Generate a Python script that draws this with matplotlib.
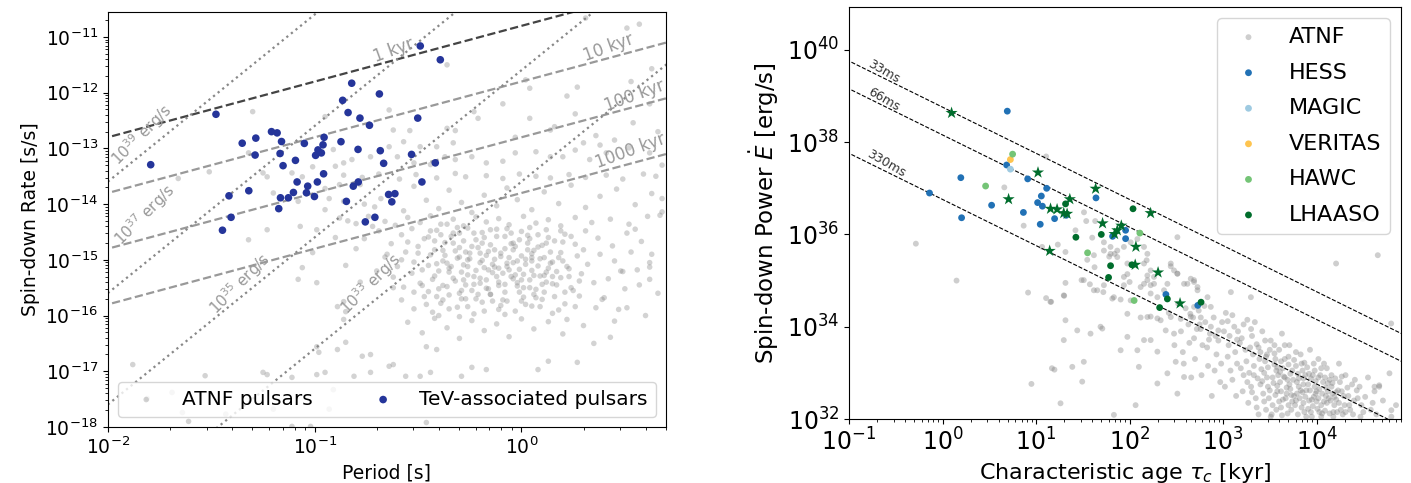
import numpy as np
import matplotlib
matplotlib.use('Agg')
import matplotlib.pyplot as plt
from matplotlib.ticker import NullLocator

# ---------------- left panel: P - Pdot diagram ----------------
# ATNF pulsars, (log10 P [s], log10 Pdot [s/s])
atnf_ppdot = [
    # sparse, top right
    (0.31, -10.66), (0.57, -10.77), (0.51, -10.84), (-0.36, -11.50), (0.63, -11.57), (0.04, -11.92),
    (0.02, -11.77), (0.27, -11.90), (0.22, -12.06), (0.53, -11.80), (-0.09, -12.20), (0.04, -12.46),
    (-0.23, -12.34), (-0.21, -12.46), (-0.64, -12.31), (0.26, -12.38), (0.54, -12.54), (-0.36, -12.64),
    (-0.32, -12.68), (-0.62, -12.67), (-0.54, -12.68), (-0.03, -12.80), (0.16, -12.61), (0.14, -12.67),
    (0.36, -12.77), (0.30, -12.90), (0.38, -12.94), (0.45, -12.85), (-0.64, -12.97), (-0.57, -12.88),
    (-0.49, -12.97), (-0.41, -12.97), (-0.33, -12.90), (0.62, -12.20), (0.66, -12.70),
    (-0.86, -13.26), (-0.82, -13.20), (-0.90, -13.32), (-0.73, -13.15), (-0.60, -13.15), (-0.52, -13.26),
    (-0.44, -13.29), (-0.37, -13.15), (-0.32, -13.20), (-0.24, -13.15), (-0.17, -13.26), (-0.09, -13.23),
    (-0.03, -13.08), (0.07, -13.06), (0.14, -13.15), (0.20, -13.15), (0.26, -13.03), (0.33, -13.20),
    (0.41, -13.08), (0.52, -12.99), (0.62, -13.08), (0.68, -13.30),
    (-0.86, -13.48), (-0.77, -13.52), (-0.69, -13.46), (-0.59, -13.55), (-0.51, -13.47), (-0.41, -13.53),
    (-0.32, -13.45), (-0.27, -13.51), (-0.17, -13.49), (-0.09, -13.54), (-0.01, -13.46), (0.07, -13.50),
    (0.14, -13.53), (0.23, -13.47), (0.31, -13.52), (0.41, -13.48), (0.49, -13.55), (0.59, -13.46),
    (0.65, -13.50),
    # left, sparse
    (-1.30, -12.34), (-1.51, -13.42), (-1.66, -13.54), (-1.32, -13.08), (-1.25, -13.44), (-1.23, -13.51),
    (-1.11, -13.44), (-1.06, -13.51), (-1.01, -13.33), (-1.23, -14.46), (-1.20, -13.80), (-1.08, -13.95),
    (-1.07, -14.40), (-0.99, -14.46), (-0.95, -12.43), (-0.91, -13.02), (-1.32, -14.64), (-1.06, -15.14),
    (-1.08, -15.35), (-0.99, -15.41), (-1.01, -14.87), (-0.89, -15.84), (-0.86, -16.07), (-0.85, -15.93),
    (-0.99, -16.56), (-0.98, -16.66), (-0.99, -17.06), (-0.95, -17.02), (-1.25, -17.02), (-1.23, -17.06),
    (-1.11, -17.11), (-1.88, -16.88), (-1.53, -17.08), (-1.81, -17.49), (-1.69, -17.38), (-1.64, -17.74),
    (-1.61, -17.90), (-1.43, -17.77), (-1.20, -17.68), (-1.11, -17.99), (-1.02, -17.99), (-0.93, -17.68),
    (-0.91, -17.33), (-0.86, -15.75),
    # lower and right edges
    (0.43, -16.39), (0.62, -15.35), (0.51, -15.86), (0.47, -15.89), (0.40, -15.68), (0.39, -15.71),
    (0.27, -16.84), (0.22, -16.07), (0.13, -16.82), (0.08, -16.97), (-0.17, -16.97), (-0.24, -16.93),
    (-0.29, -17.09), (-0.44, -17.02), (-0.49, -17.09), (-0.56, -17.09), (-0.64, -16.91), (-0.62, -16.88),
    (-0.73, -17.02), (-0.81, -17.09), (-0.46, -17.92), (-0.77, -16.73), (-0.73, -16.70), (-0.46, -16.56),
    (-0.41, -16.61), (-0.85, -16.48), (-0.89, -16.61), (0.55, -14.45), (0.63, -14.90), (0.66, -15.60),
    (0.60, -16.00), (0.48, -15.20), (0.57, -15.45), (0.67, -14.20), (0.45, -16.10), (0.35, -16.50),
    (0.68, -13.90), (0.56, -15.18), (0.49, -15.21), (0.62, -15.05),
    # upper-left arm of the cloud
    (-0.95, -14.10), (-0.90, -14.60), (-0.84, -14.30), (-0.80, -14.80), (-0.76, -14.00), (-0.72, -14.40),
    (-0.68, -13.90), (-0.65, -14.90), (-0.70, -15.20), (-0.62, -15.50), (-0.78, -15.40), (-0.85, -15.10),
    (-0.93, -13.90), (-0.88, -13.65),
    # main cloud
    (-0.88, -14.25), (-0.80, -14.35), (-0.74, -14.22), (-0.66, -14.31), (-0.61, -14.38), (-0.55, -14.24),
    (-0.49, -14.33), (-0.44, -14.21), (-0.39, -14.36), (-0.33, -14.27), (-0.28, -14.39), (-0.22, -14.23),
    (-0.17, -14.32), (-0.11, -14.26), (-0.06, -14.37), (0.01, -14.22), (0.07, -14.34), (0.13, -14.28),
    (0.19, -14.39), (0.26, -14.24), (0.34, -14.33), (0.43, -14.27), (0.52, -14.36), (0.61, -14.22),
    (-0.95, -13.72), (-0.86, -13.95), (-0.78, -13.65), (-0.71, -14.05), (-0.64, -13.82), (-0.57, -14.12),
    (-0.52, -13.68), (-0.46, -13.93), (-0.40, -14.08), (-0.35, -13.75), (-0.29, -13.97), (-0.24, -14.15),
    (-0.18, -13.84), (-0.12, -14.03), (-0.07, -13.71), (-0.02, -13.92), (0.05, -14.10), (0.11, -13.78),
    (0.18, -13.99), (0.24, -13.66), (0.31, -14.06), (0.38, -13.86), (0.46, -13.73), (0.55, -14.01),
    (0.63, -13.81), (0.68, -14.14),
    (-0.76, -14.62), (-0.69, -14.48), (-0.63, -14.71), (-0.58, -14.55), (-0.53, -14.44), (-0.50, -14.76),
    (-0.45, -14.59), (-0.41, -14.47), (-0.37, -14.69), (-0.33, -14.52), (-0.30, -14.78), (-0.26, -14.43),
    (-0.22, -14.64), (-0.19, -14.51), (-0.15, -14.73), (-0.12, -14.45), (-0.08, -14.58), (-0.04, -14.70),
    (0.00, -14.49), (0.04, -14.62), (0.08, -14.77), (0.12, -14.46), (0.16, -14.66), (0.21, -14.54),
    (0.26, -14.72), (0.31, -14.48), (0.37, -14.61), (0.44, -14.75), (0.51, -14.52), (0.58, -14.67),
    (-0.66, -14.95), (-0.60, -15.12), (-0.56, -14.86), (-0.52, -15.04), (-0.48, -15.18), (-0.44, -14.91),
    (-0.41, -15.07), (-0.38, -14.83), (-0.35, -15.15), (-0.31, -14.97), (-0.28, -15.09), (-0.25, -14.88),
    (-0.22, -15.19), (-0.19, -15.01), (-0.16, -14.85), (-0.13, -15.13), (-0.10, -14.94), (-0.07, -15.06),
    (-0.04, -14.82), (-0.01, -15.17), (0.02, -14.99), (0.05, -14.89), (0.08, -15.11), (0.11, -14.96),
    (0.15, -15.04), (0.19, -14.87), (0.23, -15.16), (0.27, -14.93), (0.32, -15.08), (0.38, -14.90),
    (0.45, -15.02), (0.53, -14.86), (0.62, -15.13),
    (-0.62, -15.31), (-0.57, -15.49), (-0.53, -15.24), (-0.49, -15.42), (-0.45, -15.57), (-0.42, -15.29),
    (-0.38, -15.46), (-0.35, -15.22), (-0.32, -15.38), (-0.29, -15.55), (-0.26, -15.27), (-0.23, -15.44),
    (-0.20, -15.33), (-0.17, -15.51), (-0.14, -15.23), (-0.11, -15.40), (-0.08, -15.58), (-0.05, -15.30),
    (-0.02, -15.47), (0.01, -15.26), (0.04, -15.36), (0.07, -15.53), (0.11, -15.28), (0.15, -15.43),
    (0.19, -15.32), (0.24, -15.50), (0.29, -15.25), (0.35, -15.41), (0.42, -15.34), (0.50, -15.52),
    (-0.58, -15.72), (-0.52, -15.88), (-0.47, -15.66), (-0.43, -15.94), (-0.39, -15.78), (-0.35, -15.63),
    (-0.31, -15.85), (-0.27, -15.70), (-0.23, -15.97), (-0.19, -15.76), (-0.15, -15.62), (-0.11, -15.89),
    (-0.07, -15.74), (-0.03, -15.92), (0.01, -15.67), (0.05, -15.83), (0.10, -15.71), (0.15, -15.96),
    (0.21, -15.79), (0.28, -15.65), (0.36, -15.86),
    (-0.55, -16.12), (-0.48, -16.31), (-0.42, -16.05), (-0.36, -16.22), (-0.30, -16.41), (-0.24, -16.09),
    (-0.18, -16.27), (-0.12, -16.15), (-0.06, -16.38), (0.00, -16.06), (0.06, -16.24), (0.13, -16.11),
    (0.20, -16.33), (0.30, -16.18),
    # densest part
    (-0.30, -14.95), (-0.26, -15.12), (-0.21, -14.78), (-0.17, -15.36), (-0.13, -14.99), (-0.09, -15.24),
    (-0.05, -14.71), (-0.02, -15.41), (0.02, -15.08), (0.06, -14.83), (0.09, -15.29), (0.13, -15.15),
    (-0.33, -15.33), (-0.28, -14.66), (-0.24, -15.55), (-0.15, -15.62), (-0.10, -14.88), (-0.06, -15.18),
    (0.00, -14.93), (0.04, -15.50), (0.10, -14.74), (0.17, -15.21), (-0.38, -15.02), (-0.20, -15.05),
    (-0.11, -15.46), (0.07, -15.68), (-0.42, -14.82), (-0.36, -15.48), (0.20, -15.02), (-0.03, -15.27),
    (-0.27, -14.86), (-0.23, -15.30), (-0.14, -15.08), (-0.08, -14.80), (-0.01, -15.58), (0.05, -15.19),
    (0.12, -15.40), (-0.34, -14.58), (-0.18, -14.60), (0.03, -14.70), (-0.40, -15.20), (-0.29, -15.70),
    (-0.47, -14.62), (-0.43, -15.35), (-0.39, -14.55), (-0.35, -15.88), (-0.31, -14.42), (-0.27, -15.45),
    (-0.25, -14.98), (-0.21, -15.62), (-0.19, -14.70), (-0.16, -15.18), (-0.12, -14.58), (-0.09, -15.72),
    (-0.06, -14.96), (-0.04, -15.34), (-0.01, -14.64), (0.02, -15.80), (0.05, -15.02), (0.08, -14.55),
    (0.11, -15.58), (0.14, -14.86), (0.17, -15.45), (0.20, -14.68), (0.23, -15.30), (0.26, -15.84),
    (-0.45, -15.10), (-0.41, -15.66), (-0.37, -14.92), (-0.33, -14.70), (-0.29, -15.22), (-0.26, -15.84),
    (-0.23, -14.52), (-0.20, -15.42), (-0.17, -14.92), (-0.14, -15.74), (-0.11, -15.15), (-0.07, -14.44),
    (-0.04, -15.05), (0.00, -15.36), (0.03, -14.82), (0.06, -15.62), (0.09, -14.98), (0.12, -15.22),
    (0.16, -15.66), (0.19, -14.48), (0.22, -15.12), (-0.50, -14.88), (-0.48, -15.46), (-0.36, -14.36),
    (-0.30, -15.60), (-0.18, -15.92), (-0.08, -15.98), (0.04, -14.42), (0.13, -14.60), (0.25, -15.55),
    (-0.55, -14.68), (-0.58, -15.00), (-0.40, -16.00), (0.18, -15.90), (0.30, -14.82), (0.28, -15.38),
    (-0.44, -14.48), (-0.40, -15.52), (-0.36, -15.06), (-0.32, -14.84), (-0.28, -15.36), (-0.24, -14.76),
    (-0.22, -15.70), (-0.18, -15.14), (-0.15, -14.46), (-0.12, -15.30), (-0.10, -15.82), (-0.07, -15.12),
    (-0.05, -14.52), (-0.02, -15.02), (0.01, -15.50), (0.03, -14.56), (0.06, -15.28), (0.09, -15.84),
    (0.12, -14.70), (0.15, -15.30), (0.18, -14.96), (0.21, -15.58), (0.24, -14.58), (-0.46, -15.80),
    (-0.42, -14.66), (-0.38, -15.72), (-0.34, -15.12), (-0.30, -14.52), (-0.26, -15.00), (-0.20, -14.88),
    (-0.16, -15.52), (-0.13, -14.82), (-0.08, -15.44), (-0.03, -14.76), (0.00, -15.74), (0.05, -14.96),
    (0.10, -15.44), (0.14, -15.06), (-0.52, -15.58), (-0.30, -16.02),
]

# TeV-associated pulsars
tev_period = [0.0161, 0.0333, 0.0446, 0.0519, 0.0515, 0.0618, 0.0658, 0.0691, 0.068, 0.0703,
              0.0807, 0.0891, 0.111, 0.1097, 0.1037, 0.1077, 0.101, 0.1104, 0.103, 0.0822,
              0.0925, 0.0912, 0.0997, 0.0789, 0.0746, 0.0683, 0.067, 0.048, 0.0385, 0.0394,
              0.0358, 0.134, 0.162, 0.1365, 0.151, 0.145, 0.1655, 0.184, 0.2055, 0.2076,
              0.2155, 0.1625, 0.1537, 0.1423, 0.1757, 0.1955, 0.2277, 0.2443, 0.236, 0.294,
              0.315, 0.330, 0.383, 0.324, 0.405]
tev_pdot = [5.1e-14, 4.1e-13, 1.24e-13, 1.53e-13, 7.6e-14, 2.0e-13, 1.9e-13, 1.33e-13, 8.1e-14, 4.9e-14,
            6.1e-14, 1.23e-13, 1.58e-13, 1.16e-13, 9.4e-14, 8.3e-14, 7.5e-14, 3.5e-14, 2.5e-14, 2.5e-14,
            2.1e-14, 1.6e-14, 1.37e-14, 1.62e-14, 1.30e-14, 1.30e-14, 8.3e-15, 1.74e-14, 1.41e-14, 5.8e-15,
            3.4e-15, 1.32e-13, 9.6e-14, 7.3e-13, 1.48e-12, 4.4e-13, 3.5e-13, 2.6e-13, 9.5e-13, 9.1e-14,
            5.4e-14, 2.5e-14, 2.1e-14, 1.12e-14, 4.8e-15, 5.8e-15, 1.49e-14, 1.54e-14, 1.1e-14, 7.8e-14,
            3.5e-13, 2.5e-14, 5.5e-14, 6.9e-12, 3.9e-12]

age_lines_kyr = [1, 10, 100, 1000]
age_labels = ['1 kyr', '10 kyr', '100 kyr', '1000 kyr']
age_label_pos = [(0.24, 5.8e-12), (2.64, 6.5e-12), (3.52, 8.7e-13), (3.35, 9.1e-14)]
edot_lines = [1e39, 1e37, 1e35, 1e33]
edot_labels = [r'$10^{39}$ erg/s', r'$10^{37}$ erg/s', r'$10^{35}$ erg/s', r'$10^{33}$ erg/s']
edot_label_pos = [(0.0146, 1.75e-13), (0.0151, 6.4e-15), (0.0435, 3.7e-16), (0.188, 3.7e-16)]

# ---------------- right panel: Edot vs characteristic age ----------------
# ATNF pulsars, (log10 tau_c [kyr], log10 Edot [erg/s])
atnf_age_edot = [
    (-0.285, 35.80), (0.150, 35.00), (0.915, 34.74), (1.108, 34.62), (1.162, 34.54), (1.197, 33.07),
    (0.951, 32.76), (1.065, 35.73), (1.233, 35.78), (1.108, 37.69), (0.661, 37.02), (0.868, 36.19),
    (1.301, 34.67), (1.315, 34.95), (1.487, 35.01), (1.315, 35.62), (1.422, 36.09), (1.537, 36.29),
    (1.633, 36.29), (1.513, 36.48), (1.601, 35.93), (1.548, 35.45), (1.626, 35.29), (1.576, 34.92),
    (1.619, 34.79), (1.720, 34.75), (1.726, 34.90), (1.816, 34.61), (1.905, 34.59), (1.783, 35.52),
    (1.840, 35.58), (1.797, 35.73), (1.726, 35.83), (1.869, 35.65), (1.940, 35.73), (2.012, 35.83),
    (2.084, 35.90), (2.155, 35.73), (2.191, 35.58), (2.183, 35.44), (2.155, 34.93), (2.191, 35.11),
    (2.262, 35.08), (1.977, 35.14), (2.001, 34.97), (2.441, 35.31), (2.476, 35.22), (2.512, 35.15),
    (2.512, 35.94), (2.226, 34.90), (2.405, 34.93), (2.369, 34.79), (2.583, 34.93), (2.655, 35.04),
    (2.690, 34.97), (2.727, 34.79), (1.940, 34.90), (2.119, 34.86), (2.226, 34.72), (2.119, 34.20),
    (2.226, 34.22), (2.298, 34.18), (2.441, 34.21), (2.548, 34.17), (2.655, 34.22), (2.762, 34.20),
    (1.619, 35.55), (1.726, 35.65), (1.797, 35.58), (1.869, 35.51), (1.977, 35.37), (2.155, 35.37),
    (2.226, 35.22), (2.441, 35.37), (2.512, 35.15), (2.690, 35.01), (2.727, 34.86), (2.619, 34.93),
    (2.191, 35.01), (2.262, 34.93), (1.940, 35.08), (1.655, 34.79), (1.833, 34.64), (2.012, 34.57),
    (2.298, 34.64), (2.834, 34.64), (3.084, 34.75), (3.298, 34.64), (2.869, 34.43), (2.690, 34.43),
    (2.333, 34.14), (2.191, 34.21), (1.977, 34.28), (1.690, 34.00), (1.441, 33.92), (1.297, 34.68),
    (1.511, 35.01), (1.315, 34.14), (1.154, 34.54),
    # sparse, below the band
    (1.262, 32.34), (1.388, 33.13), (1.494, 32.81), (1.511, 33.24), (1.709, 33.96), (1.833, 32.09),
    (1.905, 33.49), (2.100, 33.13), (2.298, 32.77), (2.512, 32.55), (1.170, 33.10), (2.084, 33.49),
    (2.298, 33.46), (2.155, 33.71), (2.226, 33.71), (1.977, 33.78), (2.065, 32.30), (2.494, 33.24),
    (2.405, 32.99), (2.583, 32.91), (2.387, 33.92), (2.476, 33.85), (1.297, 33.71), (1.583, 33.85),
    # right side
    (4.655, 35.55), (4.209, 35.37), (4.495, 36.34), (4.798, 34.07), (4.780, 32.99), (4.620, 32.70),
    (4.670, 32.73), (4.800, 32.19),
    # main band
    (2.42, 34.30), (2.55, 33.90), (2.63, 34.05), (2.48, 33.60), (2.58, 33.20), (2.66, 32.90),
    (2.52, 34.50), (2.69, 33.75), (2.74, 34.35), (2.81, 34.10), (2.86, 33.85), (2.78, 33.60),
    (2.93, 33.40), (2.84, 33.15), (2.97, 32.80), (2.90, 34.20), (2.76, 33.95), (2.95, 33.70),
    (2.88, 32.50), (3.03, 34.30), (3.12, 34.00), (3.07, 33.80), (3.18, 33.65), (3.24, 33.50),
    (3.05, 33.35), (3.15, 33.20), (3.28, 33.00), (3.10, 32.85), (3.21, 32.60), (3.26, 34.15),
    (3.01, 33.90), (3.13, 33.45), (3.19, 33.10), (3.27, 32.35), (3.34, 34.10), (3.42, 33.90),
    (3.51, 33.70), (3.38, 33.55), (3.47, 33.40), (3.56, 33.30), (3.33, 33.15), (3.44, 33.00),
    (3.53, 32.90), (3.40, 32.75), (3.58, 32.60), (3.49, 32.45), (3.36, 32.25), (3.55, 33.60),
    (3.45, 33.25), (3.59, 32.95), (3.31, 33.80), (3.52, 32.10), (3.63, 33.85), (3.71, 33.60),
    (3.78, 33.45), (3.66, 33.30), (3.84, 33.20), (3.74, 33.05), (3.88, 32.95), (3.69, 32.85),
    (3.81, 32.70), (3.62, 32.60), (3.76, 32.50), (3.86, 32.35), (3.73, 32.20), (3.89, 32.05),
    (3.64, 33.10), (3.79, 32.80), (3.68, 32.55), (3.83, 33.40), (3.93, 33.50), (4.02, 33.30),
    (4.11, 33.10), (3.96, 32.95), (4.07, 32.80), (4.16, 32.70), (3.99, 32.55), (4.13, 32.45),
    (4.05, 32.30), (3.94, 32.15), (4.18, 32.05), (4.09, 32.90), (4.00, 32.60), (4.15, 32.40),
    (3.97, 33.20), (4.24, 33.20), (4.31, 32.95), (4.38, 32.75), (4.27, 32.60), (4.44, 32.45),
    (4.35, 32.30), (4.22, 32.15), (4.47, 32.05), (4.41, 32.85), (4.29, 32.50), (4.36, 32.20),
    (4.55, 32.90), (4.62, 32.60), (4.71, 32.40), (4.58, 32.20), (4.80, 32.05), (4.67, 32.70),
    (4.85, 32.30),
    (3.22, 32.95), (3.30, 32.70), (3.37, 32.88), (3.43, 32.55), (3.48, 33.12), (3.54, 32.78),
    (3.60, 32.38), (3.65, 32.92), (3.70, 33.18), (3.72, 32.65), (3.77, 32.30), (3.80, 32.98),
    (3.85, 32.58), (3.87, 32.15), (3.91, 32.75), (3.95, 32.42), (3.98, 33.05), (4.03, 32.65),
    (4.06, 32.12), (4.10, 32.50), (4.14, 32.85), (4.19, 32.30), (4.23, 32.62), (4.28, 32.10),
    (3.35, 32.45), (3.46, 32.20), (3.57, 33.05), (3.62, 32.25), (3.75, 32.85), (3.82, 32.45),
    (3.90, 33.12), (4.01, 32.22), (4.12, 32.60), (4.20, 32.88), (3.58, 32.72), (3.67, 32.45),
    (3.93, 32.62), (4.04, 32.95), (3.41, 33.08), (3.50, 32.62), (3.39, 33.30), (3.70, 33.35),
    (3.86, 32.88), (3.96, 32.28), (4.08, 32.38), (4.17, 32.55), (3.26, 32.80), (3.32, 33.40),
    (3.53, 32.30), (3.80, 32.10),
    (2.60, 34.40), (2.68, 34.20), (2.72, 33.95), (2.80, 34.45), (2.87, 34.00), (2.92, 33.80),
    (2.99, 34.10), (3.06, 33.60), (3.10, 34.25), (3.16, 33.90), (2.57, 33.45), (2.70, 33.30),
    (2.83, 33.55), (2.98, 33.20), (3.08, 33.05), (2.64, 33.65), (2.77, 32.95), (2.91, 33.05),
    (3.02, 32.70), (3.14, 32.50),
    (3.25, 33.25), (3.36, 33.62), (3.44, 32.38), (3.47, 32.90), (3.55, 33.42), (3.61, 32.80),
    (3.63, 32.08), (3.66, 33.60), (3.72, 32.98), (3.74, 32.38), (3.78, 33.15), (3.83, 32.62),
    (3.88, 32.48), (3.91, 32.22), (3.94, 32.88), (3.98, 32.70), (4.02, 32.45), (4.05, 33.10),
    (4.09, 32.18), (4.12, 32.78), (4.16, 32.95), (4.21, 32.42), (4.25, 32.80), (4.30, 32.30),
    (4.33, 32.68), (4.40, 32.40), (4.46, 32.70), (4.50, 32.15), (4.52, 32.48), (4.60, 32.35),
    (4.64, 32.10), (3.20, 33.75), (3.29, 33.55), (3.33, 32.95), (3.50, 33.50), (3.58, 33.12),
    (3.68, 32.68), (3.85, 33.05), (4.00, 32.38), (4.18, 32.15), (2.65, 34.28), (2.75, 34.05),
    (2.85, 33.72), (2.95, 33.92), (3.05, 34.12), (3.15, 33.72), (3.22, 34.05), (3.30, 33.95),
    (3.45, 33.70), (3.60, 33.50),
    (3.31, 32.58), (3.38, 32.10), (3.42, 32.82), (3.46, 33.35), (3.51, 32.05), (3.56, 32.52),
    (3.61, 33.02), (3.64, 32.42), (3.69, 32.12), (3.71, 32.75), (3.76, 33.28), (3.79, 32.55),
    (3.84, 32.25), (3.87, 33.22), (3.89, 32.62), (3.92, 32.98), (3.95, 32.05), (3.99, 32.82),
    (4.03, 32.15), (4.06, 32.55), (4.08, 33.20), (4.11, 32.35), (4.14, 32.12), (4.17, 32.78),
    (4.21, 32.58), (4.24, 32.35), (4.27, 32.92), (4.31, 32.15), (4.34, 32.50), (4.39, 32.10),
    (4.43, 32.62), (4.48, 32.30), (3.48, 32.70), (3.57, 32.20), (3.66, 32.90), (3.73, 32.52),
    (3.81, 32.88), (3.97, 32.48), (4.10, 32.68), (4.26, 32.20), (3.40, 33.45), (3.55, 33.18),
    (3.70, 32.30), (3.86, 32.75), (4.02, 32.90), (4.19, 32.48), (3.62, 33.25), (3.78, 32.40),
    (3.92, 32.40), (4.05, 32.05),
]

hess_age = [4.93, 1.57, 0.726, 4.85, 8.15, 13.0, 11.4, 10.4, 11.7, 3.35, 1.60,
            7.33, 15.8, 11.1, 43.8, 90.8, 90.8, 65.9, 245, 537, 21.0]
hess_edot = [4.7e38, 1.7e37, 7.9e36, 3.2e37, 1.6e37, 1.0e37, 6.8e36, 4.9e36, 4.1e36, 4.3e36, 2.3e36,
             3.0e36, 2.2e36, 1.66e36, 6.2e36, 1.23e36, 8.1e35, 9.1e35, 5.0e34, 2.9e34, 2.6e36]
magic_age = [5.32]
magic_edot = [2.6e37]
veritas_age = [5.32]
veritas_edot = [4.2e37]
hawc_age = [5.62, 2.89, 35.6, 129, 112]
hawc_edot = [5.5e37, 1.12e37, 4.0e35, 1.07e36, 3.7e34]
lhaaso_age = [109, 26.7, 49.9, 62.7, 59.7, 106, 254, 210, 582, 20.7]
lhaaso_edot = [3.6e36, 8.7e35, 1.0e36, 2.1e35, 1.17e35, 2.2e35, 4.0e34, 2.6e34, 3.4e34, 4.6e36]
lhaaso_star_age = [1.25, 10.5, 5.09, 43.4, 23.0, 14.3, 16.8, 19.8, 21.5, 168,
                   51.5, 81.7, 74.0, 69.2, 117, 14.0, 115, 202, 347]
lhaaso_star_edot = [4.3e38, 2.2e37, 5.8e36, 9.8e36, 5.8e36, 3.6e36, 3.5e36, 2.9e36, 2.8e36, 2.9e36,
                    1.74e36, 1.55e36, 1.23e36, 1.02e36, 5.4e35, 4.4e35, 2.2e35, 1.5e35, 3.2e34]

period_lines_ms = [33, 66, 330]
period_label_pos = [(0.233, 3.4e39), (0.233, 8.3e38), (0.249, 3.5e37)]

# constants
I_NS = 1e45
KYR = 3.156e10

fig = plt.figure(figsize=(14.11, 4.83), dpi=100)

# ---------------- left ----------------
ax1 = fig.add_axes([0.0765, 0.116, 0.3955, 0.859])
pp = np.array(atnf_ppdot).T
ax1.scatter(10**pp[0], 10**pp[1], s=16, color='gray', alpha=0.34, edgecolors='none',
            label='ATNF pulsars')
ax1.scatter(tev_period, tev_pdot, s=30, color='#25359a', edgecolors='none',
            label='TeV-associated pulsars', zorder=3)

p_grid = np.logspace(-2.2, 1, 100)
for i, age in enumerate(age_lines_kyr):
    col = '#444444' if i == 0 else '#999999'
    ax1.plot(p_grid, p_grid / (2 * age * KYR), '--', color=col, lw=1.6, zorder=2)
    ax1.text(age_label_pos[i][0], age_label_pos[i][1], age_labels[i], color='#999999',
             fontsize=12, rotation=20, ha='center', va='center')
for i, edot in enumerate(edot_lines):
    ax1.plot(p_grid, edot * p_grid**3 / (4 * np.pi**2 * I_NS), ':', color='#888888', lw=1.6, zorder=2)
    ax1.text(edot_label_pos[i][0], edot_label_pos[i][1], edot_labels[i], color='#999999',
             fontsize=11, rotation=45, ha='center', va='center')

ax1.set_xscale('log')
ax1.set_yscale('log')
ax1.set_xlim(1e-2, 5)
ax1.set_ylim(1e-18, 2.8e-11)
ax1.set_yticks([1e-18, 1e-17, 1e-16, 1e-15, 1e-14, 1e-13, 1e-12, 1e-11])
ax1.set_xticks([1e-2, 1e-1, 1e0])
ax1.set_xlabel('Period [s]', fontsize=13.5)
ax1.set_ylabel('Spin-down Rate [s/s]', fontsize=13.5)
ax1.tick_params(labelsize=13.5)
ax1.legend(loc='lower center', ncol=2, mode='expand', fontsize=14.5)

# ---------------- right ----------------
ax2 = fig.add_axes([0.6017, 0.1325, 0.3912, 0.853])
ae = np.array(atnf_age_edot).T
ax2.scatter(10**ae[0], 10**ae[1], s=18, color='gray', alpha=0.38, edgecolors='none', label='ATNF')
ax2.scatter(hess_age, hess_edot, s=24, color='#2171b5', edgecolors='none', label='HESS', zorder=3)
ax2.scatter(magic_age, magic_edot, s=24, color='#9ecae1', edgecolors='none', label='MAGIC', zorder=3)
ax2.scatter(veritas_age, veritas_edot, s=24, color='#fec44f', edgecolors='none', label='VERITAS', zorder=3)
ax2.scatter(hawc_age, hawc_edot, s=24, color='#74c476', edgecolors='none', label='HAWC', zorder=3)
ax2.scatter(lhaaso_age, lhaaso_edot, s=24, color='#006d2c', edgecolors='none', label='LHAASO', zorder=3)
ax2.scatter(lhaaso_star_age, lhaaso_star_edot, s=85, marker='*', color='#006d2c', edgecolors='none',
            zorder=4)

tau_grid = np.logspace(-1.2, 5.2, 100)
for i, p_ms in enumerate(period_lines_ms):
    p = p_ms * 1e-3
    ax2.plot(tau_grid, 2 * np.pi**2 * I_NS / (tau_grid * KYR * p**2), '--', color='black', lw=0.8, zorder=2)
    ax2.text(period_label_pos[i][0], period_label_pos[i][1], f'{p_ms}ms', color='#333333',
             fontsize=9, rotation=-30, ha='center', va='center')

ax2.set_xscale('log')
ax2.set_yscale('log')
ax2.set_xlim(1e-1, 8e4)
ax2.set_ylim(1e32, 8.5e40)
ax2.set_yticks([1e32, 1e34, 1e36, 1e38, 1e40])
ax2.yaxis.set_minor_locator(NullLocator())
ax2.set_xticks([1e-1, 1e0, 1e1, 1e2, 1e3, 1e4])
ax2.set_xlabel(r'Characteristic age $\tau_c$ [kyr]', fontsize=16)
ax2.set_ylabel(r'Spin-down Power $\dot{E}$ [erg/s]', fontsize=16.5)
ax2.tick_params(labelsize=17)
ax2.legend(loc='upper right', fontsize=16, labelspacing=0.7)

fig.savefig('out.png', dpi=100)
